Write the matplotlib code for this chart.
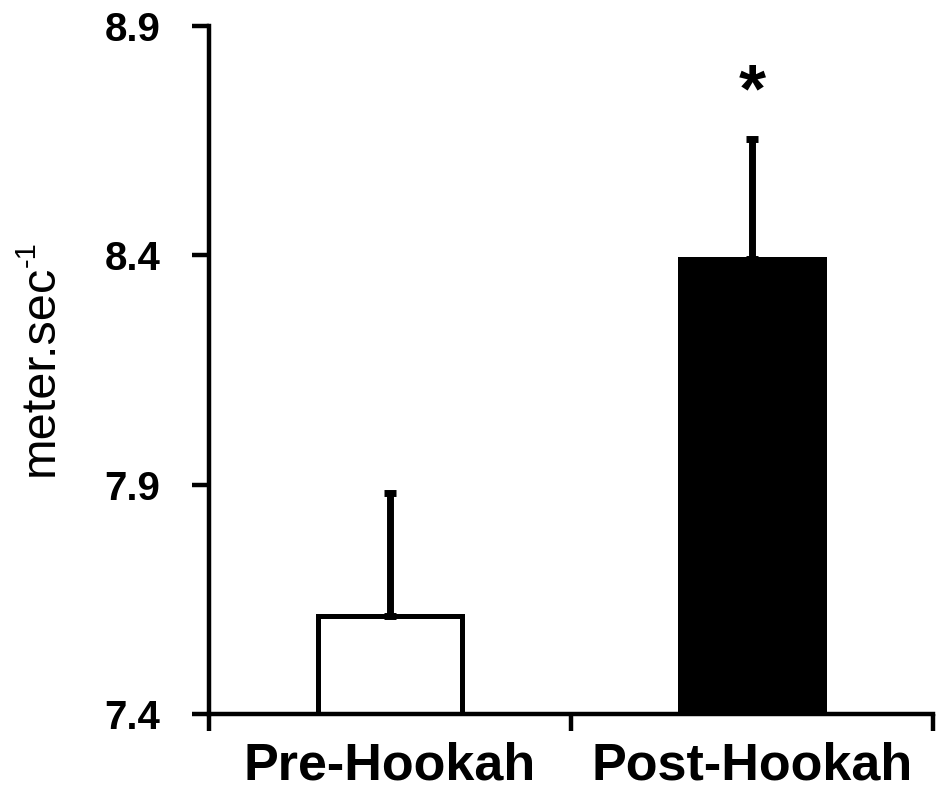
import matplotlib
matplotlib.use("Agg")
import matplotlib.pyplot as plt

# ---- data ----
groups = ["Pre-Hookah", "Post-Hookah"]
means = [7.614, 8.392]
errors = [0.268, 0.262]
face_colors = ["white", "black"]
yticks = [7.4, 7.9, 8.4, 8.9]

plt.rcParams["font.family"] = ["Liberation Sans", "DejaVu Sans"]

fig = plt.figure(figsize=(9.44, 7.96), dpi=100)
ax = fig.add_axes([0.2214, 0.1030, 0.767, 0.8643])

x = list(range(len(groups)))
base = yticks[0]
heights = [m - base for m in means]
ax.bar(x, heights, bottom=base, width=0.40, color=face_colors,
       edgecolor="black", linewidth=3.6, zorder=2)
ax.errorbar(x, means, yerr=[[0] * len(errors), errors], fmt="none",
            ecolor="black", elinewidth=5, capsize=4, capthick=5, zorder=3)

# significance marker
ax.text(1, means[1] + errors[1] + 0.03, "*", ha="center", va="bottom",
        fontsize=50, fontweight="bold")

ax.set_xlim(-0.5, 1.5)
ax.set_ylim(yticks[0], yticks[-1])
ax.set_yticks(yticks)
ax.set_yticklabels([f"{t:.1f}" for t in yticks], fontsize=29, fontweight="bold")
ax.set_xticks([-0.5, 0.5, 1.5])
ax.set_xticklabels([])
ax.set_xticks(x, minor=True)
ax.set_xticklabels(groups, minor=True, fontsize=37.5, fontweight="bold")
ax.tick_params(axis="x", which="minor", length=0, pad=20)
ax.tick_params(axis="x", which="major", length=12, width=3.2, direction="out")
ax.tick_params(axis="y", length=12, width=3.2, direction="out", pad=23)

for side in ["top", "right"]:
    ax.spines[side].set_visible(False)
for side in ["left", "bottom"]:
    ax.spines[side].set_linewidth(3.2)

ylab = ax.set_ylabel("meter.sec", fontsize=35, labelpad=30)
# superscript -1 at the end of the rotated label
ax.annotate("-1", xy=(0.0, 1.0), xycoords=ylab, xytext=(-4, -2),
            textcoords="offset points", rotation=90, ha="left", va="bottom",
            fontsize=21)

fig.savefig("out.png", dpi=100)
